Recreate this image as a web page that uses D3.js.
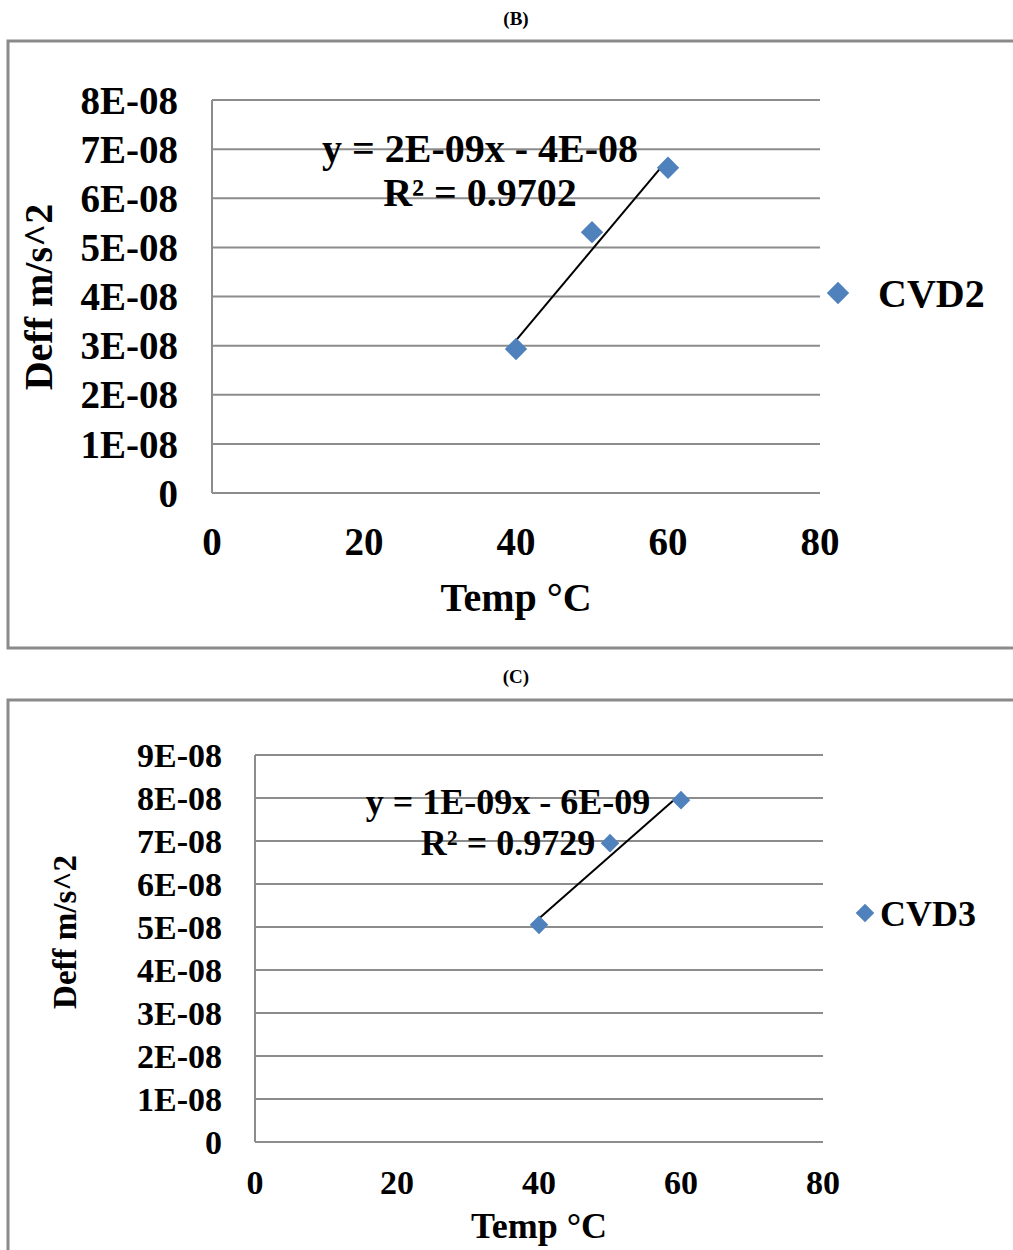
<!DOCTYPE html>
<html>
<head>
<meta charset="utf-8">
<script src="https://cdn.jsdelivr.net/npm/d3@7"></script>
<style>
body { margin: 0; background: #fff; }
svg text { font-family: "Liberation Serif", "Times New Roman", serif; font-weight: bold; fill: #000; }
</style>
</head>
<body>
<svg id="chart" width="1013" height="1250"></svg>
<script>
// panel B data
var tempB = [40, 50, 60];
var deffB = [2.93e-8, 5.31e-8, 6.62e-8];
var yTicksB = [0, 1e-8, 2e-8, 3e-8, 4e-8, 5e-8, 6e-8, 7e-8, 8e-8];
var eqB = ["y = 2E-09x - 4E-08", "R² = 0.9702"];

// panel C data
var tempC = [40, 50, 60];
var deffC = [5.05e-8, 6.95e-8, 7.95e-8];
var yTicksC = [0, 1e-8, 2e-8, 3e-8, 4e-8, 5e-8, 6e-8, 7e-8, 8e-8, 9e-8];
var eqC = ["y = 1E-09x - 6E-09", "R² = 0.9729"];

var xTicks = [0, 20, 40, 60, 80];

var svg = d3.select("#chart");
var blue = "#4f81bd", grid = "#8c8c8c";

function fmt(v) {
    if (v == 0) return "0";
    return Math.round(v / 1e-8) + "E-08";
}

function fit(xs, ys) {
    var mx = d3.mean(xs), my = d3.mean(ys);
    var num = 0, den = 0;
    xs.forEach(function(x, i) { num += (x - mx) * (ys[i] - my); den += (x - mx) * (x - mx); });
    var b = num / den;
    return { b: b, a: my - b * mx };
}

function drawPanel(p) {
    svg.append("text").attr("x", p.titleX).attr("y", p.titleY)
        .attr("text-anchor", "middle").style("font-size", "19px").text(p.title);

    svg.append("rect").attr("x", 8).attr("y", p.boxTop).attr("width", 1020).attr("height", p.boxH)
        .attr("fill", "none").attr("stroke", "#8a8a8a").attr("stroke-width", 3);

    var x = d3.scaleLinear().domain([0, 80]).range([p.left, p.right]);
    var y = d3.scaleLinear().domain([0, p.yMax]).range([p.bottom, p.top]);
    var g = svg.append("g");

    g.selectAll(".grid").data(p.yTicks).enter().append("line")
        .attr("x1", p.left).attr("x2", p.right)
        .attr("y1", function(d) { return y(d); }).attr("y2", function(d) { return y(d); })
        .attr("stroke", grid).attr("stroke-width", 2);
    g.append("line").attr("x1", p.left).attr("x2", p.left).attr("y1", p.top).attr("y2", p.bottom)
        .attr("stroke", grid).attr("stroke-width", 2);

    g.selectAll(".yt").data(p.yTicks).enter().append("text")
        .attr("x", p.left - p.tickGap).attr("y", function(d) { return y(d); })
        .attr("dy", "0.35em").attr("text-anchor", "end").style("font-size", p.tfs + "px")
        .text(fmt);

    g.selectAll(".xt").data(xTicks).enter().append("text")
        .attr("x", function(d) { return x(d); }).attr("y", p.xTickY)
        .attr("dy", "0.35em").attr("text-anchor", "middle").style("font-size", p.tfs + "px")
        .text(function(d) { return d; });

    g.append("text").attr("x", x(40)).attr("y", p.xTitleY).attr("dy", "0.35em")
        .attr("text-anchor", "middle").style("font-size", p.fs + "px").text("Temp °C");

    g.append("text").attr("transform", "translate(" + p.yTitleX + "," + p.yTitleY + ") rotate(-90)")
        .attr("dy", "0.35em").attr("text-anchor", "middle").style("font-size", p.yfs + "px").text("Deff m/s^2");

    // linear trendline over the data range
    var f = fit(p.xs, p.ys);
    var x0 = d3.min(p.xs), x1 = d3.max(p.xs);
    g.append("line").attr("x1", x(x0)).attr("y1", y(f.a + f.b * x0))
        .attr("x2", x(x1)).attr("y2", y(f.a + f.b * x1))
        .attr("stroke", "#000").attr("stroke-width", 2);

    var diamond = d3.symbol().type(d3.symbolDiamond2).size(p.mk);
    g.selectAll(".pt").data(p.xs).enter().append("path")
        .attr("d", diamond)
        .attr("transform", function(d, i) { return "translate(" + x(d) + "," + y(p.ys[i]) + ")"; })
        .attr("fill", blue);

    g.selectAll(".eq").data(p.eq).enter().append("text")
        .attr("x", function(d, i) { return p.eqX[i]; })
        .attr("y", function(d, i) { return p.eqY[i]; })
        .attr("dy", "0.35em").attr("text-anchor", "middle").style("font-size", p.fs + "px")
        .text(function(d) { return d; });

    g.append("path").attr("d", diamond)
        .attr("transform", "translate(" + p.legX + "," + p.legY + ")")
        .attr("fill", blue);
    g.append("text").attr("x", p.legTX).attr("y", p.legY).attr("dy", "0.35em")
        .style("font-size", p.fs + "px").text(p.name);
}

drawPanel({
    title: "(B)", titleX: 516, titleY: 25, boxTop: 41, boxH: 607,
    left: 212, right: 820, top: 100, bottom: 493, yMax: 8e-8, yTicks: yTicksB,
    xs: tempB, ys: deffB, eq: eqB, eqX: [480, 480], eqY: [148, 192],
    tfs: 39, fs: 40, yfs: 40, tickGap: 34, xTickY: 541, xTitleY: 597, yTitleX: 38, yTitleY: 297,
    mk: 320, legX: 838, legY: 293, legTX: 878, name: "CVD2"
});

drawPanel({
    title: "(C)", titleX: 516, titleY: 683, boxTop: 700, boxH: 600,
    left: 255, right: 823, top: 755, bottom: 1142, yMax: 9e-8, yTicks: yTicksC,
    xs: tempC, ys: deffC, eq: eqC, eqX: [508, 508], eqY: [801, 842],
    tfs: 34, fs: 36, yfs: 33, tickGap: 33, xTickY: 1182, xTitleY: 1225, yTitleX: 64, yTitleY: 932,
    mk: 220, legX: 865, legY: 913, legTX: 880, name: "CVD3"
});
</script>
</body>
</html>
